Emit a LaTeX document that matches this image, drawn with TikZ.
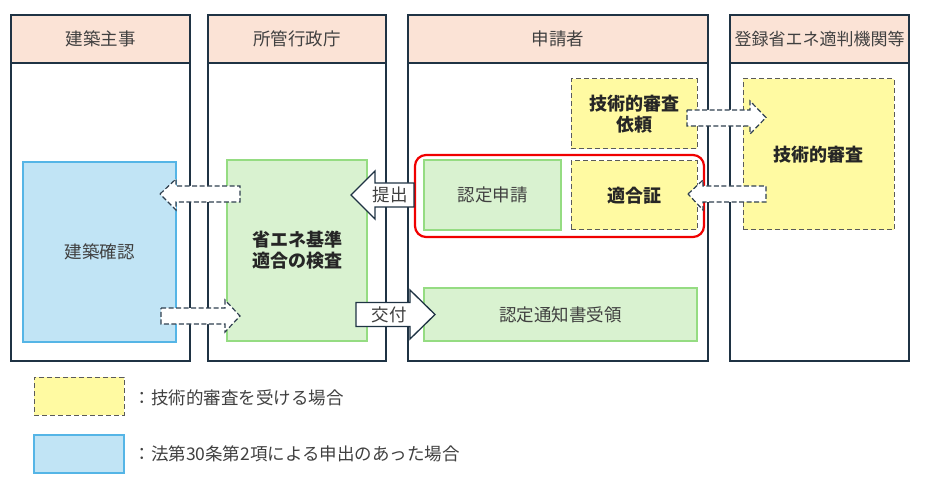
\documentclass[tikz,border=0pt]{standalone}
\usepackage{fontspec}
\setmainfont{Noto Sans CJK JP}
\definecolor{lanec}{HTML}{1F3344}
\definecolor{hdrc}{HTML}{FBE3D6}
\definecolor{bluef}{HTML}{C1E4F5}
\definecolor{bluel}{HTML}{55B5E6}
\definecolor{greenf}{HTML}{D9F2D0}
\definecolor{greenl}{HTML}{95DC82}
\definecolor{yelf}{HTML}{FFFAA2}
\definecolor{dashc}{HTML}{5A5A5A}
\definecolor{darrc}{HTML}{2F3F4F}
\definecolor{txtc}{HTML}{404040}
\definecolor{redc}{HTML}{F00000}
\tikzset{
  txt/.style={font=\fontsize{17.5}{22}\selectfont, text=txtc, align=center},
  btxt/.style={font=\fontsize{18}{22}\selectfont\bfseries, text=black!85, align=center},
  hdrbox/.style={draw=lanec, fill=hdrc, line width=1.2pt, txt, inner sep=0pt},
  lanebody/.style={draw=lanec, fill=white, line width=1.2pt, inner sep=0pt},
  bluebox/.style={draw=bluel, fill=bluef, line width=1.4pt, txt, inner sep=0pt},
  greenbox/.style={draw=greenl, fill=greenf, line width=1.2pt, inner sep=0pt},
  yelbox/.style={draw=dashc, fill=yelf, line width=1pt, dash pattern=on 5pt off 3pt, inner sep=0pt},
  redframe/.style={draw=redc, line width=2.2pt, rounded corners=11pt, inner sep=0pt},
  solidarrow/.style={draw=lanec, fill=white, line width=1.3pt, line join=miter},
  dasharrow/.style={draw=darrc, fill=white, line width=1.2pt, dash pattern=on 5pt off 2.5pt},
}
\begin{document}
\begin{tikzpicture}[x=1pt,y=-1pt]
\useasboundingbox (0,0) rectangle (932,489);
% lanes
\node[lanebody, minimum width=179pt, minimum height=298pt] (b1) at (100.5,212) {};
\node[lanebody, minimum width=178pt, minimum height=298pt] (b2) at (297,212) {};
\node[lanebody, minimum width=300pt, minimum height=298pt] (b3) at (558,212) {};
\node[lanebody, minimum width=179pt, minimum height=298pt] (b4) at (819.5,212) {};
\node[hdrbox, minimum width=179pt, minimum height=48pt] (h1) at (100.5,39) {建築主事};
\node[hdrbox, minimum width=178pt, minimum height=48pt] (h2) at (297,39) {所管行政庁};
\node[hdrbox, minimum width=300pt, minimum height=48pt] (h3) at (558,39) {申請者};
\node[hdrbox, minimum width=179pt, minimum height=48pt, font=\fontsize{17}{22}\selectfont] (h4) at (819.5,39) {登録省エネ適判機関等};
% boxes
\node[bluebox, minimum width=153pt, minimum height=180pt] (kakunin) at (99.5,252) {建築確認};
\node[greenbox, minimum width=140pt, minimum height=181pt, btxt] (kensa) at (297,250.5) {省エネ基準\\[-1pt]適合の検査};
\node[greenbox, minimum width=137pt, minimum height=70pt, txt] (shinsei) at (492.5,195) {認定申請};
\node[yelbox, minimum width=126pt, minimum height=69pt] (tekigo) at (634,195.5) {};
\node[btxt] at (tekigo) {適合証};
\node[yelbox, minimum width=126pt, minimum height=70pt] (irai) at (634,114) {};
\node[btxt] at (irai) {技術的審査\\[-1pt]依頼};
\node[yelbox, minimum width=151pt, minimum height=151pt] (shinsa) at (818.5,154.5) {};
\node[btxt] at (shinsa) {技術的審査};
\node[greenbox, minimum width=273pt, minimum height=53pt, txt] (tsuchi) at (560.5,314.5) {認定通知書受領};
\node[redframe, minimum width=289pt, minimum height=82pt] (red) at (559.5,196) {};
% solid block arrows
\draw[solidarrow] (351,195) -- (375,171) -- (375,183) -- (red.west |- 0,183) -- (red.west |- 0,207) -- (375,207) -- (375,219) -- cycle;
\node[txt] (teishutsu) at (390,195) {提出};
\draw[solidarrow] (356,302.5) -- (410,302.5) -- (410,290) -- (435,314.5) -- (410,339) -- (410,326.5) -- (356,326.5) -- cycle;
\node[txt] (kofu) at (389,314.5) {交付};
% dashed block arrows
\draw[dasharrow] (160,194) -- (176,179) -- (176,186) -- (240,186) -- (240,202) -- (176,202) -- (176,210) -- cycle;
\draw[dasharrow] (161,308) -- (225,308) -- (225,300) -- (240,316) -- (225,332) -- (225,324) -- (161,324) -- cycle;
\draw[dasharrow] (687,110) -- (750,110) -- (750,101) -- (766,117.5) -- (750,134) -- (750,126) -- (687,126) -- cycle;
\draw[dasharrow] (688,194) -- (703,180) -- (703,186) -- (766,186) -- (766,202) -- (703,202) -- (703,210) -- cycle;
% legend
\node[yelbox, minimum width=90pt, minimum height=38pt] (lg1) at (79,396) {};
\node[txt, anchor=west] (lt1) at (130,398) {：技術的審査を受ける場合};
\node[bluebox, minimum width=90pt, minimum height=38pt] (lg2) at (79,454) {};
\node[txt, anchor=west] (lt2) at (130,454) {：法第30条第2項による申出のあった場合};
\end{tikzpicture}
\end{document}
